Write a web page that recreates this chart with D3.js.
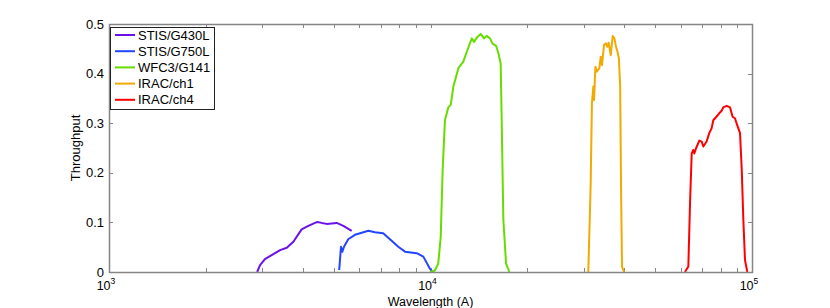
<!DOCTYPE html>
<html>
<head>
<meta charset="utf-8">
<script src="https://cdn.jsdelivr.net/npm/d3@7"></script>
<style>
  body { margin: 0; background: #fff; }
  text { font-family: "Liberation Sans", Arial, sans-serif; }
</style>
</head>
<body>
<script>
// throughput curves (wavelength in A, throughput)
const g430Wave = [2890, 2950, 3055, 3244, 3406, 3573, 3745, 3973, 4168, 4446, 4587, 4756, 5107, 5357, 5688];
const g430Thru = [0, 0.014, 0.026, 0.036, 0.044, 0.049, 0.061, 0.086, 0.093, 0.101, 0.099, 0.097, 0.099, 0.093, 0.083];

const g750Wave = [5200, 5268, 5320, 5383, 5547, 5820, 6040, 6409, 6719, 7127, 7480, 7940, 8330, 9060, 9500, 9950, 10130];
const g750Thru = [0.004, 0.051, 0.041, 0.051, 0.066, 0.075, 0.078, 0.083, 0.080, 0.078, 0.066, 0.051, 0.041, 0.038, 0.031, 0.007, 0];

const g141Wave = [9955, 10320, 10570, 10760, 10910, 11090, 11360, 11560, 11780, 12210, 12650, 12970, 13440, 13660, 13990, 14330, 14670, 14950, 15310, 15620, 16000, 16260, 16530, 16650, 16850, 17180, 17590];
const g141Thru = [0, 0.003, 0.017, 0.071, 0.206, 0.306, 0.332, 0.337, 0.374, 0.411, 0.424, 0.444, 0.471, 0.464, 0.474, 0.480, 0.471, 0.476, 0.471, 0.460, 0.456, 0.441, 0.421, 0.306, 0.105, 0.017, 0];

const ch1Wave = [30960, 31480, 31780, 32100, 32260, 32580, 32900, 33520, 33850, 34150, 34650, 35160, 35490, 35840, 36360, 36880, 37330, 37770, 38160, 38540, 38900, 39140, 39420, 40000];
const ch1Thru = [0, 0.172, 0.340, 0.374, 0.347, 0.414, 0.404, 0.411, 0.434, 0.417, 0.458, 0.461, 0.454, 0.462, 0.437, 0.476, 0.471, 0.454, 0.444, 0.431, 0.374, 0.172, 0.011, 0];

const ch4Wave = [61880, 63380, 64160, 64930, 65680, 66150, 66960, 68550, 69740, 70550, 72270, 73620, 74910, 75780, 77260, 79080, 80450, 81380, 83380, 85420, 87030, 88510, 89950, 91780, 92920, 93990, 95110, 96700];
const ch4Thru = [0, 0.011, 0.139, 0.239, 0.246, 0.239, 0.249, 0.265, 0.263, 0.253, 0.263, 0.280, 0.290, 0.306, 0.312, 0.320, 0.325, 0.332, 0.335, 0.332, 0.313, 0.310, 0.296, 0.280, 0.206, 0.105, 0.024, 0];

const names = ["STIS/G430L", "STIS/G750L", "WFC3/G141", "IRAC/ch1", "IRAC/ch4"];
const colors = ["#6b12e8", "#2345ff", "#66dd00", "#f2a900", "#ff0000"];
const yTicks = [0, 0.1, 0.2, 0.3, 0.4, 0.5];
const xDecades = [1e3, 1e4, 1e5];

const series = [
  [g430Wave, g430Thru], [g750Wave, g750Thru], [g141Wave, g141Thru],
  [ch1Wave, ch1Thru], [ch4Wave, ch4Thru]
].map((s, i) => ({ name: names[i], color: colors[i], pts: s[0].map((w, j) => [w, s[1][j]]) }));

const W = 830, H = 308;
const m = { left: 109, right: 752, top: 24, bottom: 272 };

const svg = d3.select("body").append("svg")
    .attr("width", W)
    .attr("height", H);

const x = d3.scaleLog().domain([1e3, 1e5]).range([m.left, m.right]);
const y = d3.scaleLinear().domain([0, 0.5]).range([m.bottom, m.top]);

const axisColor = "#858585";
const tickLen = 4;

// minor + major x ticks (log)
const xTickVals = [];
for (let d = 1e3; d < 1e5; d *= 10) {
  for (let k = 1; k < 10; k++) xTickVals.push(d * k);
}
xTickVals.push(1e5);

const ticks = svg.append("g").attr("stroke", axisColor).attr("stroke-width", 1);
xTickVals.forEach(v => {
  const px = Math.round(x(v)) + 0.5;
  ticks.append("line").attr("x1", px).attr("x2", px).attr("y1", m.bottom).attr("y2", m.bottom - tickLen);
  ticks.append("line").attr("x1", px).attr("x2", px).attr("y1", m.top).attr("y2", m.top + tickLen);
});
yTicks.forEach(v => {
  const py = Math.round(y(v)) + 0.5;
  ticks.append("line").attr("x1", m.left).attr("x2", m.left + tickLen).attr("y1", py).attr("y2", py);
  ticks.append("line").attr("x1", m.right).attr("x2", m.right - tickLen).attr("y1", py).attr("y2", py);
});

// curves
const line = d3.line().x(d => x(d[0])).y(d => y(d[1]));
svg.append("g").selectAll("path")
  .data(series)
  .enter()
  .append("path")
  .attr("d", d => line(d.pts))
  .attr("fill", "none")
  .attr("stroke", d => d.color)
  .attr("stroke-width", 2)
  .attr("stroke-linejoin", "round");

// frame
svg.append("rect")
  .attr("x", m.left + 0.5).attr("y", m.top + 0.5)
  .attr("width", m.right - m.left).attr("height", m.bottom - m.top)
  .attr("fill", "none")
  .attr("stroke", axisColor)
  .attr("stroke-width", 1.5);

// y tick labels
svg.append("g").selectAll("text")
  .data(yTicks)
  .enter()
  .append("text")
  .attr("x", m.left - 5)
  .attr("y", d => y(d) + 4.5)
  .attr("text-anchor", "end")
  .attr("font-size", 13)
  .text(d => d === 0 ? "0" : d3.format(".1f")(d));

// x tick labels: 10^n
const xl = svg.append("g").selectAll("text")
  .data(xDecades)
  .enter()
  .append("text")
  .attr("x", d => x(d) - 3)
  .attr("y", 290)
  .attr("text-anchor", "middle")
  .attr("font-size", 12.5);
xl.append("tspan").text("10");
xl.append("tspan").attr("dy", -6).attr("font-size", 8.5).text(d => Math.round(Math.log10(d)));

// axis titles
svg.append("text")
  .attr("x", x(1e4))
  .attr("y", 306)
  .attr("text-anchor", "middle")
  .attr("font-size", 12.5)
  .text("Wavelength (A)");

svg.append("text")
  .attr("transform", "translate(80," + ((m.top + m.bottom) / 2) + ") rotate(-90)")
  .attr("text-anchor", "middle")
  .attr("font-size", 13)
  .text("Throughput");

// legend
const legend = svg.append("g");
legend.append("rect")
  .attr("x", 110.5).attr("y", 27.5)
  .attr("width", 104).attr("height", 82)
  .attr("fill", "#fff")
  .attr("stroke", "#222")
  .attr("stroke-width", 1);

const items = legend.selectAll("g.item")
  .data(series)
  .enter()
  .append("g")
  .attr("class", "item")
  .attr("transform", (d, i) => "translate(0," + (35 + i * 16.2) + ")");
items.append("line")
  .attr("x1", 115).attr("x2", 135)
  .attr("stroke", d => d.color)
  .attr("stroke-width", 2);
items.append("text")
  .attr("x", 138)
  .attr("y", 4.5)
  .attr("font-size", 13)
  .text(d => d.name);
</script>
</body>
</html>
